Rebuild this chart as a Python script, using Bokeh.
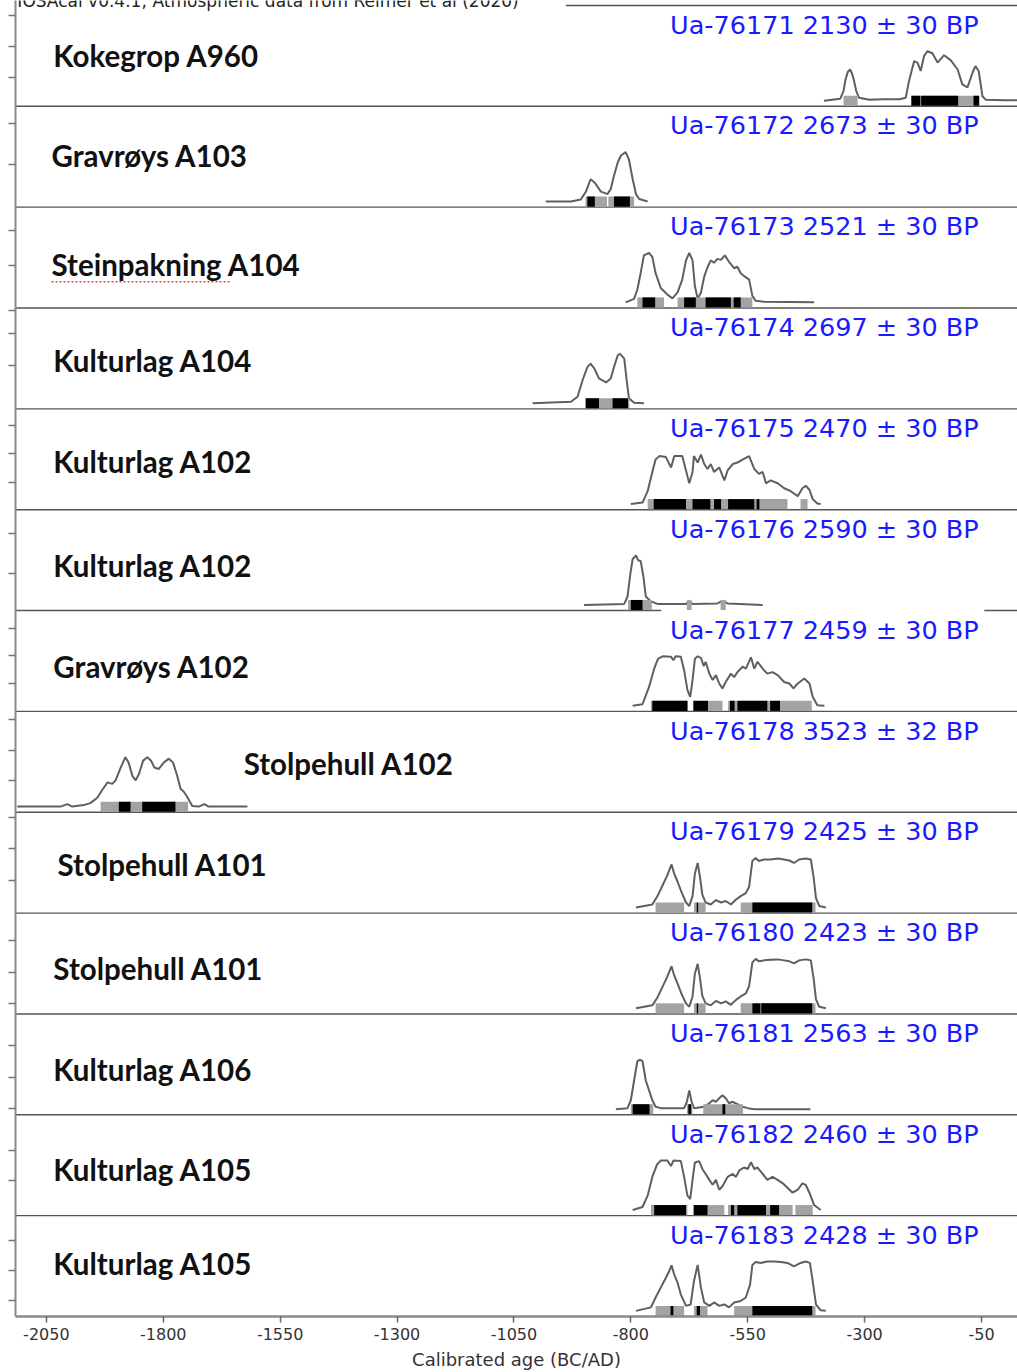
from bokeh.plotting import figure
from bokeh.models import Range1d, FixedTicker, ColumnDataSource
from bokeh.core.properties import value
from bokeh.embed import file_html
from bokeh.resources import INLINE

# ---------------------------------------------------------------------------
# Samples (top to bottom)
# ---------------------------------------------------------------------------
lab_ids = ["Ua-76171", "Ua-76172", "Ua-76173", "Ua-76174", "Ua-76175", "Ua-76176",
           "Ua-76177", "Ua-76178", "Ua-76179", "Ua-76180", "Ua-76181", "Ua-76182",
           "Ua-76183"]
bp_ages = [2130, 2673, 2521, 2697, 2470, 2590, 2459, 3523, 2425, 2423, 2563, 2460, 2428]
bp_errors = [30, 30, 30, 30, 30, 30, 30, 32, 30, 30, 30, 30, 30]
contexts = ["Kokegrop A960", "Gravrøys A103", "Steinpakning A104", "Kulturlag A104",
            "Kulturlag A102", "Kulturlag A102", "Gravrøys A102", "Stolpehull A102",
            "Stolpehull A101", "Stolpehull A101", "Kulturlag A106", "Kulturlag A105",
            "Kulturlag A105"]

x_ticks = [-2050, -1800, -1550, -1300, -1050, -800, -550, -300, -50]

# Calibrated probability curves: calendar year (BC negative) and relative density
yrs_76171 = [-387, -352, -345, -341, -336, -331, -327, -323, -318, -312, -290, -260, -225,
             -212, -205, -194, -187, -180, -173, -166, -155, -144, -130, -116, -101, -91,
             -80, -69, -63, -56, -48, -41, 0, 27]
den_76171 = [0, 0.04, 0.2, 0.42, 0.58, 0.63, 0.55, 0.42, 0.2, 0.06, 0.02, 0.03, 0.03,
             0.06, 0.4, 0.8, 0.77, 0.6, 0.9, 1.0, 0.96, 0.77, 0.92, 0.82, 0.63, 0.33,
             0.27, 0.57, 0.7, 0.6, 0.09, 0.02, 0.01, 0.01]

yrs_76172 = [-982, -928, -907, -896, -886, -877, -864, -850, -843, -836, -828, -821, -811,
             -804, -796, -789, -782, -764]
den_76172 = [0, 0, 0.04, 0.2, 0.45, 0.38, 0.2, 0.15, 0.25, 0.52, 0.79, 0.93, 1.0,
             0.85, 0.45, 0.15, 0.05, 0]

yrs_76173 = [-811, -793, -786, -779, -772, -761, -754, -747, -736, -722, -711, -700, -690,
             -682, -675, -668, -663, -657, -650, -643, -636, -629, -622, -615, -607, -599,
             -590, -579, -572, -565, -556, -547, -540, -533, -515, -408]
den_76173 = [0, 0.07, 0.26, 0.59, 0.95, 1.0, 0.92, 0.59, 0.29, 0.16, 0.08, 0.2, 0.46,
             0.85, 1.0, 0.85, 0.33, 0.07, 0.2, 0.52, 0.71, 0.85, 0.8, 0.88, 0.86, 0.95,
             0.82, 0.69, 0.72, 0.59, 0.52, 0.46, 0.13, 0.03, 0.01, 0]

yrs_76174 = [-1010, -928, -914, -903, -893, -886, -878, -868, -853, -843, -836, -828, -823,
             -814, -809, -804, -793, -772]
den_76174 = [0, 0.03, 0.13, 0.47, 0.73, 0.8, 0.7, 0.5, 0.42, 0.5, 0.73, 0.97, 1.0,
             0.9, 0.47, 0.1, 0.01, 0]

yrs_76175 = [-800, -775, -764, -754, -747, -739, -725, -714, -707, -690, -682, -675, -668,
             -665, -657, -650, -643, -636, -629, -622, -611, -600, -593, -582, -572, -561,
             -547, -536, -526, -518, -511, -501, -486, -472, -458, -443, -433, -426, -418,
             -411, -401, -394]
den_76175 = [0, 0.03, 0.26, 0.65, 0.9, 0.97, 0.95, 0.74, 0.97, 0.97, 0.68, 0.42, 0.65,
             0.97, 0.84, 1.0, 0.81, 0.71, 0.81, 0.65, 0.74, 0.48, 0.68, 0.81, 0.84, 0.9,
             0.97, 0.71, 0.61, 0.65, 0.42, 0.48, 0.42, 0.32, 0.26, 0.16, 0.32, 0.37, 0.29,
             0.1, 0.01, 0]

yrs_76176 = [-900, -814, -807, -801, -796, -789, -784, -779, -773, -768, -757, -743, -682,
             -675, -668, -615, -604, -593, -518]
den_76176 = [0, 0.02, 0.17, 0.63, 0.93, 1.0, 0.9, 0.89, 0.57, 0.17, 0.07, 0.02, 0.02,
             0.08, 0.02, 0.03, 0.08, 0.03, 0]

yrs_76177 = [-796, -775, -761, -750, -742, -732, -714, -709, -704, -693, -686, -679, -673,
             -668, -663, -657, -650, -644, -640, -632, -625, -618, -611, -604, -597, -586,
             -579, -572, -561, -554, -543, -536, -529, -518, -508, -497, -486, -472, -461,
             -452, -443, -429, -418, -411, -401, -386]
den_76177 = [0, 0.03, 0.38, 0.75, 0.95, 1.0, 0.99, 0.92, 1.0, 0.99, 0.72, 0.32, 0.18,
             0.52, 0.95, 1.0, 0.97, 0.8, 0.89, 0.65, 0.52, 0.62, 0.45, 0.35, 0.48, 0.65,
             0.58, 0.68, 0.79, 0.75, 0.98, 0.75, 0.89, 0.75, 0.65, 0.68, 0.62, 0.48, 0.45,
             0.35, 0.45, 0.55, 0.45, 0.18, 0.01, 0]

yrs_76178 = [-2112, -2020, -2005, -1995, -1970, -1956, -1941, -1931, -1919, -1909, -1902,
             -1891, -1881, -1874, -1866, -1859, -1852, -1843, -1834, -1826, -1819, -1810,
             -1799, -1788, -1779, -1770, -1763, -1756, -1749, -1738, -1724, -1712, -1703,
             -1620]
den_76178 = [0, 0, 0.05, 0, 0.03, 0.07, 0.18, 0.33, 0.49, 0.46, 0.53, 0.79, 1.0, 0.89,
             0.62, 0.53, 0.66, 0.93, 1.0, 0.93, 0.79, 0.76, 0.89, 0.97, 0.89, 0.62, 0.36,
             0.3, 0.2, 0.01, 0, 0.05, 0, 0]

yrs_76179 = [-789, -754, -743, -732, -722, -713, -707, -700, -692, -682, -675, -668, -663,
             -657, -652, -647, -640, -629, -618, -607, -597, -586, -575, -565, -554, -547,
             -540, -533, -526, -515, -501, -486, -472, -461, -451, -440, -426, -415, -409,
             -404, -397, -383]
den_76179 = [0, 0.06, 0.23, 0.45, 0.65, 0.87, 0.68, 0.52, 0.32, 0.1, 0.03, 0.23, 0.68,
             0.9, 0.61, 0.26, 0.1, 0.06, 0.15, 0.1, 0.13, 0.06, 0.16, 0.23, 0.29, 0.42,
             0.94, 1.0, 0.94, 0.97, 0.97, 0.99, 0.97, 0.95, 0.9, 0.97, 0.99, 0.97, 0.61,
             0.19, 0.03, 0]

yrs_76180 = [-789, -754, -743, -732, -722, -713, -707, -700, -692, -682, -675, -668, -663,
             -657, -652, -647, -640, -629, -618, -607, -597, -586, -575, -565, -554, -547,
             -540, -533, -526, -515, -501, -486, -472, -461, -451, -440, -426, -415, -409,
             -404, -397, -383]
den_76180 = [0, 0.06, 0.22, 0.44, 0.64, 0.85, 0.66, 0.5, 0.3, 0.1, 0.03, 0.24, 0.7,
             0.9, 0.6, 0.25, 0.1, 0.06, 0.15, 0.1, 0.14, 0.07, 0.17, 0.24, 0.3, 0.45,
             0.93, 1.0, 0.95, 0.97, 0.98, 0.99, 0.97, 0.95, 0.91, 0.97, 0.99, 0.97, 0.6,
             0.18, 0.03, 0]

yrs_76181 = [-832, -807, -800, -793, -786, -780, -775, -768, -761, -754, -747, -736, -686,
             -680, -675, -670, -665, -643, -632, -625, -618, -611, -604, -597, -590, -583,
             -572, -561, -550, -536, -416]
den_76181 = [0, 0.02, 0.18, 0.58, 0.97, 1.0, 0.97, 0.58, 0.38, 0.18, 0.05, 0.02, 0.02,
             0.15, 0.38, 0.15, 0.02, 0.05, 0.12, 0.18, 0.15, 0.22, 0.28, 0.22, 0.12, 0.15,
             0.1, 0.05, 0.02, 0, 0]

yrs_76182 = [-796, -775, -764, -754, -744, -736, -722, -714, -709, -693, -686, -679, -673,
             -668, -663, -654, -647, -640, -632, -625, -618, -611, -604, -593, -582, -575,
             -568, -558, -550, -543, -536, -529, -518, -508, -497, -486, -475, -465, -454,
             -443, -433, -426, -418, -408, -394]
den_76182 = [0, 0.06, 0.29, 0.67, 0.92, 1.0, 1.0, 0.89, 1.0, 0.99, 0.67, 0.29, 0.22,
             0.61, 0.96, 0.99, 0.83, 0.73, 0.61, 0.51, 0.61, 0.41, 0.48, 0.67, 0.73, 0.67,
             0.8, 0.86, 0.83, 0.97, 0.83, 0.86, 0.73, 0.61, 0.67, 0.61, 0.54, 0.45, 0.35,
             0.41, 0.54, 0.51, 0.35, 0.1, 0]

yrs_76183 = [-789, -757, -747, -736, -725, -718, -713, -707, -700, -693, -682, -672, -665,
             -657, -650, -643, -632, -622, -611, -600, -590, -579, -565, -554, -545, -540,
             -533, -522, -508, -494, -479, -465, -451, -437, -426, -417, -411, -404, -394,
             -383]
den_76183 = [0, 0.07, 0.27, 0.47, 0.67, 0.8, 0.92, 0.73, 0.57, 0.33, 0.1, 0.13, 0.6,
             0.93, 0.47, 0.17, 0.1, 0.17, 0.1, 0.13, 0.07, 0.17, 0.2, 0.27, 0.53, 0.93,
             0.99, 0.97, 1.0, 1.0, 0.99, 0.97, 0.9, 0.97, 1.0, 0.97, 0.6, 0.13, 0.01, 0]

# Highest-density ranges: 95.4 % (grey) and 68.2 % (black)
hpd95 = [
    [(-345, -315), (-200, -55)],
    [(-897, -851), (-848, -793)],
    [(-786, -729), (-700, -540)],
    [(-898, -803)],
    [(-764, -465), (-437, -422)],
    [(-806, -755), (-680, -670), (-608, -597)],
    [(-757, -678), (-667, -604), (-592, -413)],
    [(-1934, -1747)],
    [(-747, -686), (-665, -640), (-565, -405)],
    [(-747, -686), (-665, -640), (-565, -405)],
    [(-800, -752), (-680, -668), (-645, -560)],
    [(-757, -679), (-667, -600), (-592, -454), (-448, -411)],
    [(-747, -686), (-665, -636), (-579, -405)],
]
hpd68 = [
    [(-200, -181), (-179, -100), (-67, -55)],
    [(-893, -877), (-836, -802)],
    [(-775, -748), (-686, -661), (-640, -586), (-580, -565)],
    [(-896, -868), (-839, -806)],
    [(-751, -682), (-668, -630), (-622, -607), (-592, -536), (-531, -525)],
    [(-800, -775)],
    [(-754, -679), (-666, -635), (-588, -578), (-572, -508), (-502, -481)],
    [(-1895, -1870), (-1845, -1774)],
    [(-659, -656), (-540, -412)],
    [(-659, -656), (-540, -523), (-521, -412)],
    [(-796, -760), (-677, -671), (-604, -598)],
    [(-750, -682), (-665, -636), (-586, -579), (-572, -511), (-502, -483)],
    [(-715, -709), (-659, -652), (-540, -412)],
]

curve_years = [yrs_76171, yrs_76172, yrs_76173, yrs_76174, yrs_76175, yrs_76176, yrs_76177,
               yrs_76178, yrs_76179, yrs_76180, yrs_76181, yrs_76182, yrs_76183]
curve_dens = [den_76171, den_76172, den_76173, den_76174, den_76175, den_76176, den_76177,
              den_76178, den_76179, den_76180, den_76181, den_76182, den_76183]

# ---------------------------------------------------------------------------
# Layout of the stacked panels (one row unit per sample)
# ---------------------------------------------------------------------------
n = len(lab_ids)
X0, X1 = -2116, 27
Y_TOP = 13.049
row_base = [n - 1 - i for i in range(n)]
CURVE_OFF, CURVE_H = 0.056, 0.49
BAR_LO, BAR_HI = 0.005, 0.105

name_x = [-2035, -2039, -2039, -2035, -2035, -2035, -2035, -1628, -2026, -2035, -2035,
          -2035, -2035]
name_dy = [0.50, 0.51, 0.43, 0.48, 0.48, 0.45, 0.45, 0.48, 0.48, 0.45, 0.45, 0.46, 0.53]
left_ticks = [12.90, 12.59, 12.29, 11.83, 11.42, 10.77, 10.42, 9.98, 9.75, 9.43, 8.83,
              8.56, 8.27, 7.76, 7.37, 6.82, 6.55, 6.28, 5.92, 5.61, 5.31, 4.95, 4.64,
              4.32, 3.73, 3.41, 3.10, 2.69, 2.37, 2.06, 1.65, 1.35, 0.75, 0.46, 0.16]

p = figure(width=1017, height=1372, x_range=Range1d(X0, X1), y_range=Range1d(0, Y_TOP),
           output_backend="svg", toolbar_location=None,
           min_border_left=15, min_border_right=0, min_border_top=0, min_border_bottom=56)
p.outline_line_color = None
p.grid.visible = False
p.background_fill_color = "white"

# bottom axis
xa = p.xaxis[0]
xa.ticker = FixedTicker(ticks=x_ticks, minor_ticks=[])
xa.major_label_overrides = {t: str(t) for t in x_ticks}
xa.axis_label = "Calibrated age (BC/AD)"
xa.axis_label_text_font = "DejaVu Sans"
xa.axis_label_text_font_size = "18px"
xa.axis_label_text_font_style = "normal"
xa.axis_label_text_color = "#333333"
xa.axis_label_standoff = 6
xa.major_label_text_font = "DejaVu Sans"
xa.major_label_text_font_size = "16px"
xa.major_label_text_color = "#333333"
xa.major_label_standoff = 5
xa.axis_line_color = "#8a8a8a"
xa.axis_line_width = 2.5
xa.major_tick_line_color = "#666666"
xa.major_tick_line_width = 1.5
xa.major_tick_out = 6
xa.major_tick_in = 0
xa.minor_tick_line_color = None

# left axis: ticks only, no tick labels
ya = p.yaxis[0]
ya.ticker = FixedTicker(ticks=left_ticks, minor_ticks=[])
ya.major_label_overrides = {t: "" for t in left_ticks}
ya.major_label_standoff = 0
ya.axis_line_color = "#8a8a8a"
ya.axis_line_width = 2
ya.major_tick_line_color = "#777777"
ya.major_tick_line_width = 1.5
ya.major_tick_out = 7
ya.major_tick_in = 0
ya.minor_tick_line_color = None

# panel separators
sep_x0, sep_x1, sep_y = [], [], []
for i in range(n - 1):
    if i == 5:
        sep_x0 += [X0, -44]
        sep_x1 += [-735, X1]
        sep_y += [row_base[i], row_base[i]]
    else:
        sep_x0.append(X0)
        sep_x1.append(X1)
        sep_y.append(row_base[i])
sep_x0.append(-939)
sep_x1.append(X1)
sep_y.append(n)
p.segment(x0=sep_x0, y0=sep_y, x1=sep_x1, y1=sep_y, line_color="#555555", line_width=1.4)

# probability curves
xs, ys = [], []
for i in range(n):
    xs.append(curve_years[i])
    ys.append([row_base[i] + CURVE_OFF + CURVE_H * d for d in curve_dens[i]])
p.multi_line(xs=xs, ys=ys, line_color="#5f5f5f", line_width=2)

# HPD range bars
def bars(ranges):
    l, r, b, t = [], [], [], []
    for i, rr in enumerate(ranges):
        for a, c in rr:
            l.append(a)
            r.append(c)
            b.append(row_base[i] + BAR_LO)
            t.append(row_base[i] + BAR_HI)
    return dict(left=l, right=r, bottom=b, top=t)

p.quad(source=ColumnDataSource(bars(hpd95)), left="left", right="right", bottom="bottom",
       top="top", fill_color="#a3a3a3", line_color=None)
p.quad(source=ColumnDataSource(bars(hpd68)), left="left", right="right", bottom="bottom",
       top="top", fill_color="#000000", line_color=None)

# sample names
names = ColumnDataSource(dict(x=name_x, y=[row_base[i] + name_dy[i] for i in range(n)],
                              text=contexts))
p.text(source=names, x="x", y="y", text="text", text_font=value("Lato"),
       text_font_style="bold", text_font_size="29.5px", text_color="#111111",
       text_align="left", text_baseline="middle")

# spelling marker under one name
p.segment(x0=[-2039], y0=[10.26], x1=[-1656], y1=[10.26], line_color="#e04848",
          line_width=1.6, line_dash="2 2")

# lab codes and radiocarbon ages
dates = ColumnDataSource(dict(
    x=[-56] * n, y=[b + 0.81 for b in row_base],
    text=[f"{lab_ids[i]} {bp_ages[i]} \u00b1 {bp_errors[i]} BP" for i in range(n)]))
p.text(source=dates, x="x", y="y", text="text", text_font=value("DejaVu Sans"),
       text_font_size="25.5px", text_color="#1a1aff", text_align="right",
       text_baseline="middle")

# heading line, running off the top edge
p.text(x=[-2112], y=[Y_TOP], text=["IOSAcal v0.4.1; Atmospheric data from Reimer et al (2020)"],
       text_font=value("DejaVu Sans"), text_font_size="17px", text_color="#222222",
       text_align="left", text_baseline="middle")

open("out.html", "w").write(file_html(p, INLINE))
